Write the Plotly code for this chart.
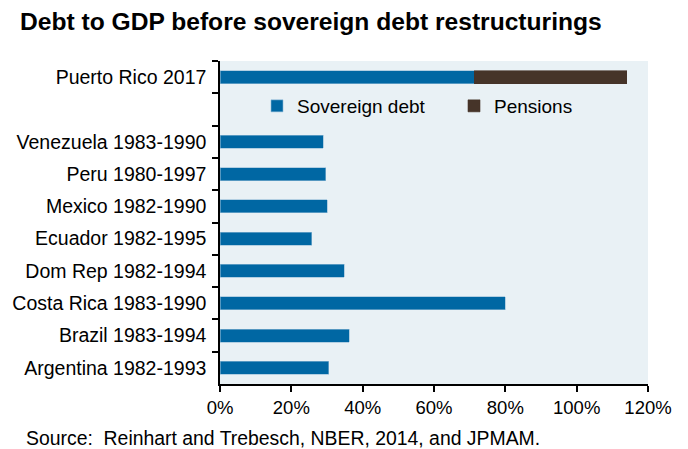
import plotly.graph_objects as go

# Data (top to bottom as shown)
categories = ["Puerto Rico 2017", " ", "Venezuela 1983-1990", "Peru 1980-1997",
              "Mexico 1982-1990", "Ecuador 1982-1995", "Dom Rep 1982-1994",
              "Costa Rica 1983-1990", "Brazil 1983-1994", "Argentina 1982-1993"]
sovereign_debt = [71.3, None, 29.0, 29.7, 30.0, 25.7, 34.9, 80.0, 36.3, 30.5]
pensions = [42.8, None, None, None, None, None, None, None, None, None]
x_ticks = [0, 20, 40, 60, 80, 100, 120]
x_tick_labels = ["0%", "20%", "40%", "60%", "80%", "100%", "120%"]

BLUE = "#0067A3"
BROWN = "#463429"
BG = "#E9F1F5"
FONT = "Liberation Sans, Arial, sans-serif"

W, H = 688, 449
L, R, T, B = 220, 40, 61, 65

fig = go.Figure()
fig.add_trace(go.Bar(y=categories, x=sovereign_debt, orientation="h", name="Sovereign debt",
                     marker=dict(color=BLUE, line=dict(color="#8DB9D6", width=0.6)), width=0.4))
fig.add_trace(go.Bar(y=categories, x=pensions, orientation="h", name="Pensions",
                     marker=dict(color=BROWN, line=dict(color=BROWN, width=0.6)), width=0.4))

fig.update_layout(
    width=W, height=H,
    barmode="stack",
    paper_bgcolor="white",
    plot_bgcolor=BG,
    margin=dict(l=L, r=R, t=T, b=B),
    font=dict(family=FONT, size=19, color="black"),
    title=dict(text="<b>Debt to GDP before sovereign debt restructurings</b>",
               xref="container", yref="container", x=20 / W, xanchor="left",
               y=1 - 21 / H, yanchor="middle", font=dict(size=24.6, family=FONT)),
    xaxis=dict(range=[0, 120], tickvals=x_ticks, ticktext=x_tick_labels,
               showgrid=False, zeroline=False, showline=True, linecolor="black", linewidth=1.5,
               ticks="outside", ticklen=6, tickcolor="black", tickwidth=1.5,
               tickfont=dict(size=18.5, family=FONT)),
    yaxis=dict(type="category", categoryorder="array", categoryarray=categories,
               autorange="reversed", showgrid=False, showline=True, linecolor="black",
               linewidth=1.5, ticks="outside", ticklen=6, tickcolor="black", tickwidth=1.5,
               tickson="boundaries", ticklabelstandoff=8, tickfont=dict(size=19.5, family=FONT)),
    showlegend=True,
    legend=dict(orientation="h", traceorder="normal", x=(257 - L) / (W - L - R), xanchor="left",
                y=1 - (106 - T) / (H - T - B), yanchor="middle",
                bgcolor="rgba(0,0,0,0)", font=dict(size=19, family=FONT),
                entrywidth=152, itemclick=False),
    annotations=[dict(text="Source:  Reinhart and Trebesch, NBER, 2014, and JPMAM.",
                      xref="paper", yref="paper", x=(24 - L) / (W - L - R), xanchor="left",
                      y=-(438 - (H - B)) / (H - T - B), yanchor="middle", showarrow=False,
                      font=dict(size=19.4, family=FONT))],
)

fig.write_html("out.html")
